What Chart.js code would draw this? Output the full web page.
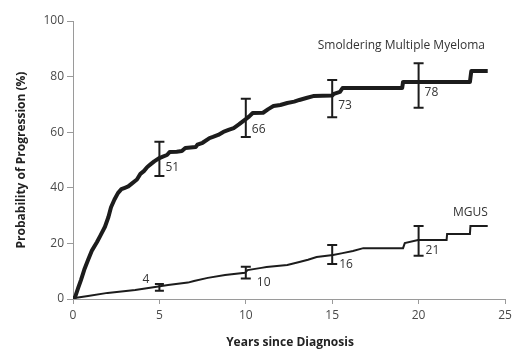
<!DOCTYPE html>
<html>
<head>
<meta charset="utf-8">
<script src="https://cdn.jsdelivr.net/npm/chart.js@4.4.0/dist/chart.umd.min.js"></script>
<style>
  html, body { margin: 0; padding: 0; background: #fff; }
  #wrap { width: 531px; height: 360px; position: relative; }
</style>
</head>
<body>
<div id="wrap"><canvas id="c" width="531" height="360"></canvas></div>
<script>
// ---- Data ----
const smmX = [0, 0.12, 0.3, 0.46, 0.65, 0.87, 1.1, 1.39, 1.6, 1.85, 2.05, 2.2, 2.4, 2.6, 2.8, 3.0, 3.2, 3.4, 3.7, 3.9, 4.1, 4.3, 4.5, 4.7, 5.0, 5.2, 5.44, 5.6, 6.0, 6.3, 6.5, 7.1, 7.2, 7.5, 7.9, 8.1, 8.4, 8.7, 9.0, 9.3, 9.6, 10.0, 10.2, 10.4, 11.0, 11.3, 11.6, 12.0, 12.4, 12.8, 13.1, 13.5, 13.9, 15.0, 15.1, 15.45, 15.6, 19.05, 19.1, 22.97, 23.05, 24.0];
const smmY = [0, 0.7, 4, 6.8, 10.5, 14, 17.5, 20.5, 23, 26, 29.5, 33, 35.8, 38.1, 39.5, 40, 40.5, 41.5, 43, 45, 46, 47.5, 48.5, 49.5, 50.7, 51.2, 51.8, 52.9, 53, 53.2, 54.3, 54.7, 55.5, 56.2, 57.9, 58.3, 59, 60.1, 60.8, 61.5, 62.8, 64.7, 65.7, 66.9, 67, 68.3, 69.4, 69.8, 70.5, 71, 71.6, 72.3, 73, 73.2, 73.8, 74.5, 75.9, 75.9, 78.1, 78.1, 82, 82];

const mgusX = [0, 0.1, 0.87, 2.0, 3.6, 4.75, 5.5, 6.65, 7.0, 7.8, 8.8, 9.95, 10.1, 10.9, 11.2, 12.4, 13.1, 13.6, 14.1, 15.05, 15.6, 16.2, 16.8, 19.1, 19.2, 19.97, 21.62, 21.65, 22.97, 23.0, 24.0];
const mgusY = [0, 0.4, 1.1, 2.2, 3.2, 4.3, 5.0, 5.9, 6.5, 7.6, 8.6, 9.4, 10.4, 11.2, 11.5, 12.2, 13.3, 14.1, 15.1, 15.8, 16.5, 17.3, 18.3, 18.3, 20.1, 21.2, 21.2, 23.4, 23.4, 26.3, 26.3];

const errX = [5, 10, 15, 20];
const smmLow = [44.2, 58.3, 65.4, 68.8];
const smmHigh = [56.6, 72, 78.8, 84.8];
const smmLabels = ["51", "66", "73", "78"];
const smmBarValue = [50.7, 64.7, 73, 78];

const mgusLow = [3.0, 7.4, 12.6, 15.6];
const mgusHigh = [5.4, 11.6, 19.4, 26.3];
const mgusLabels = ["4", "10", "16", "21"];
const mgusBarValue = [4.3, 9.6, 16, 21];

const xTicks = [0, 5, 10, 15, 20, 25];
const yTicks = [0, 20, 40, 60, 80, 100];
const seriesNames = ["Smoldering Multiple Myeloma", "MGUS"];
const xTitle = "Years since Diagnosis";
const yTitle = "Probability of Progression (%)";

const toPts = (xs, ys) => xs.map((x, i) => ({ x: x, y: ys[i] }));

const FONT = "'Open Sans', 'DejaVu Sans', sans-serif";
const INK = "#1c1c1c";
const AXIS = "#9a9a9a";

const overlay = {
  id: 'overlay',
  afterDatasetsDraw(chart) {
    const ctx = chart.ctx;
    const xs = chart.scales.x, ys = chart.scales.y;
    ctx.save();
    ctx.strokeStyle = INK;
    ctx.lineWidth = 2;
    const bar = (x, lo, hi, cap) => {
      const px = xs.getPixelForValue(x);
      const pl = ys.getPixelForValue(lo), ph = ys.getPixelForValue(hi);
      ctx.beginPath();
      ctx.moveTo(px, pl); ctx.lineTo(px, ph);
      ctx.moveTo(px - cap / 2, pl); ctx.lineTo(px + cap / 2, pl);
      ctx.moveTo(px - cap / 2, ph); ctx.lineTo(px + cap / 2, ph);
      ctx.stroke();
    };
    errX.forEach((x, i) => {
      bar(x, smmLow[i], smmHigh[i], 10);
      bar(x, mgusLow[i], mgusHigh[i], i === 0 ? 9 : 10);
    });
    ctx.fillStyle = "#333";
    ctx.font = "12px " + FONT;
    ctx.textBaseline = 'middle';
    errX.forEach((x, i) => {
      const px = xs.getPixelForValue(x);
      ctx.textAlign = 'left';
      ctx.fillText(smmLabels[i], px + 6, ys.getPixelForValue(smmBarValue[i]) + 10);
      if (i === 0) {
        ctx.textAlign = 'right';
        ctx.fillText(mgusLabels[i], px - 10, ys.getPixelForValue(mgusBarValue[i]) - 7);
      } else {
        ctx.textAlign = 'left';
        ctx.fillText(mgusLabels[i], px + (i === 1 ? 11 : 7), ys.getPixelForValue(mgusBarValue[i]) + 10);
      }
    });
    // series names
    ctx.textAlign = 'center';
    ctx.fillText(seriesNames[0], xs.getPixelForValue(19), ys.getPixelForValue(91));
    ctx.fillText(seriesNames[1], xs.getPixelForValue(23), ys.getPixelForValue(31));
    // axis titles
    ctx.fillStyle = "#222";
    ctx.font = "bold 12px " + FONT;
    ctx.fillText(xTitle, (chart.chartArea.left + chart.chartArea.right) / 2 + 1, 343);
    ctx.translate(22, (chart.chartArea.top + chart.chartArea.bottom) / 2);
    ctx.rotate(-Math.PI / 2);
    ctx.fillText(yTitle, 0, 0);
    ctx.restore();
  }
};

new Chart(document.getElementById('c'), {
  type: 'line',
  data: {
    datasets: [
      { label: seriesNames[0], data: toPts(smmX, smmY), borderColor: INK, borderWidth: 4, pointRadius: 0, fill: false, tension: 0, borderJoinStyle: 'round' },
      { label: seriesNames[1], data: toPts(mgusX, mgusY), borderColor: INK, borderWidth: 2, pointRadius: 0, fill: false, tension: 0 }
    ]
  },
  options: {
    responsive: false,
    animation: false,
    events: [],
    layout: { padding: { left: 0, right: 26, top: 21, bottom: 0 } },
    plugins: { legend: { display: false }, tooltip: { enabled: false } },
    scales: {
      x: {
        type: 'linear', min: 0, max: 25,
        afterBuildTicks: s => { s.ticks = xTicks.map(v => ({ value: v })); },
        afterFit: s => { s.height = 61; },
        grid: { drawOnChartArea: false, drawTicks: true, tickLength: 5, color: AXIS },
        border: { display: true, color: AXIS, width: 1 },
        ticks: { color: "#4a4a4a", font: { size: 12, family: FONT }, padding: 4, maxRotation: 0 }
      },
      y: {
        type: 'linear', min: 0, max: 100,
        afterBuildTicks: s => { s.ticks = yTicks.map(v => ({ value: v })); },
        afterFit: s => { s.width = 73; },
        grid: { drawOnChartArea: false, drawTicks: true, tickLength: 6, color: AXIS },
        border: { display: true, color: AXIS, width: 1 },
        ticks: { color: "#4a4a4a", font: { size: 12, family: FONT }, padding: 3 }
      }
    }
  },
  plugins: [overlay]
});
</script>
</body>
</html>
